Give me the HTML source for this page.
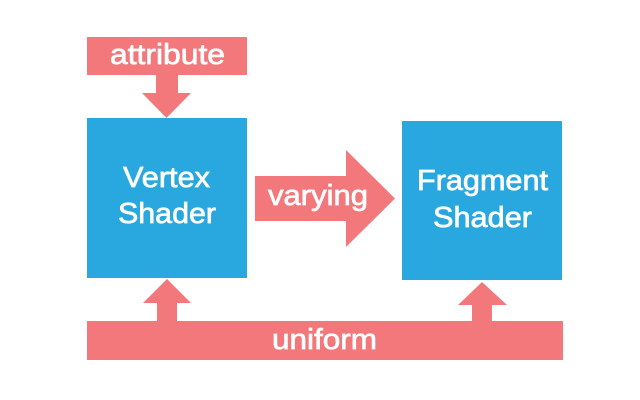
<!DOCTYPE html>
<html><head><meta charset="utf-8"><style>html,body{margin:0;padding:0;background:#fff}svg{display:block}</style></head>
<body>
<svg width="640" height="400" viewBox="0 0 640 400" xmlns="http://www.w3.org/2000/svg">
<rect width="640" height="400" fill="#fff"/>
<g fill="#f2787c">
<rect x="87" y="37" width="160" height="38"/>
<rect x="156" y="75" width="22" height="19"/>
<polygon points="142,93 191,93 166.5,118"/>
<rect x="255" y="176" width="91" height="45"/>
<polygon points="346,150 395,198.5 346,247"/>
<rect x="87" y="321" width="476" height="39"/>
<rect x="157" y="302" width="20" height="20"/>
<polygon points="143,303 191,303 167,279"/>
<rect x="472" y="304" width="20" height="18"/>
<polygon points="458,305 507,305 482,282"/>
</g>
<rect x="87" y="118" width="160" height="160" fill="#29a8e0"/>
<rect x="402" y="121" width="160" height="159" fill="#29a8e0"/>
<g fill="#fff" stroke="#fff" stroke-width="0.7" font-family="Liberation Sans, sans-serif" font-size="29" text-anchor="start">
<text x="110" y="64" textLength="115" lengthAdjust="spacingAndGlyphs">attribute</text>
<text x="123" y="187" textLength="87" lengthAdjust="spacingAndGlyphs">Vertex</text>
<text x="118" y="223" textLength="98" lengthAdjust="spacingAndGlyphs">Shader</text>
<text x="268" y="205" textLength="100" lengthAdjust="spacingAndGlyphs">varying</text>
<text x="417" y="190" textLength="131" lengthAdjust="spacingAndGlyphs">Fragment</text>
<text x="433" y="227" textLength="99" lengthAdjust="spacingAndGlyphs">Shader</text>
<text x="272" y="349" textLength="105" lengthAdjust="spacingAndGlyphs">uniform</text>
</g>
</svg>
</body></html>
